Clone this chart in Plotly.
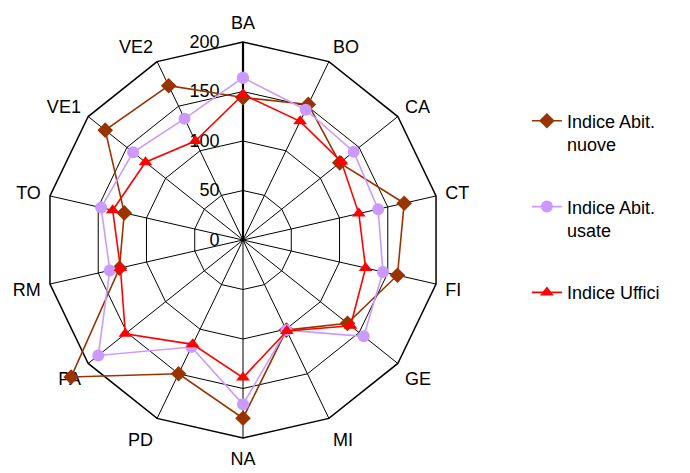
import plotly.graph_objects as go

categories = ["BA", "BO", "CA", "CT", "FI", "GE", "MI", "NA", "PD", "PA", "RM", "TO", "VE1", "VE2"]
abit_nuove = [144, 152, 125, 167, 160, 135, 101, 180, 150, 222, 128, 123, 178, 173]
abit_usate = [164, 146, 143, 140, 145, 156, 101, 166, 120, 187, 138, 147, 142, 136]
uffici = [147, 133, 127, 120, 127, 139, 102, 139, 117, 152, 127, 135, 126, 111]
radial_ticks = [0, 50, 100, 150, 200]

series = [
    ("Indice Abit.<br>nuove", abit_nuove, "#993300", "diamond", 12),
    ("Indice Abit.<br>usate", abit_usate, "#CC99FF", "circle", 12),
    ("Indice Uffici", uffici, "#FF0000", "triangle-up", 12),
]

GRID_MAX = 200   # outer polygon of the grid
DATA_MAX = 230   # data axis extends beyond so PA point is not clipped

fig = go.Figure()
# invisible trace that makes the grid subplot render
fig.add_trace(go.Scatterpolar(
    r=[0] * len(categories), theta=categories, mode="markers",
    marker=dict(opacity=0), showlegend=False, hoverinfo="skip",
    subplot="polar",
))
for i, (name, vals, color, sym, size) in enumerate(series):
    fig.add_trace(go.Scatterpolar(
        r=vals + vals[:1],
        theta=categories + categories[:1],
        mode="lines+markers",
        name=name,
        line=dict(color=color, width=1.6),
        marker=dict(symbol=sym, size=size, color=color),
        cliponaxis=False,
        legendgroup=str(i),
        subplot="polar2",
    ))

cx, cy, R = 235, 232, 198  # centre (px in paper) and radius of the 200 polygon
R2 = R * DATA_MAX / GRID_MAX


def dom(rad):
    return dict(x=[(cx - rad) / 690, (cx + rad) / 690],
                y=[(473 - cy - rad) / 473, (473 - cy + rad) / 473])


angular_common = dict(direction="clockwise", rotation=90,
                      categoryorder="array", categoryarray=categories)

fig.update_layout(
    width=690, height=473,
    margin=dict(l=0, r=0, t=0, b=0),
    paper_bgcolor="white",
    font=dict(family="Arial, Liberation Sans, sans-serif", size=18, color="black"),
    showlegend=True,
    legend=dict(x=0.752, y=0.80, xanchor="left", yanchor="top",
                font=dict(size=18), tracegroupgap=36, valign="top",
                traceorder="grouped", bgcolor="rgba(0,0,0,0)"),
    polar=dict(
        domain=dom(R),
        bgcolor="white",
        gridshape="linear",
        radialaxis=dict(
            range=[0, GRID_MAX], tickvals=radial_ticks, angle=90, tickangle=90,
            showline=True, linecolor="black", linewidth=2.2,
            gridcolor="black", gridwidth=1,
            ticks="outside", ticklen=16, tickcolor="rgba(0,0,0,0)",
            tickfont=dict(size=18), side="counterclockwise",
        ),
        angularaxis=dict(
            type="category",
            showline=True, linecolor="black", linewidth=1.5,
            gridcolor="black", gridwidth=1,
            ticks="outside", ticklen=5, tickcolor="rgba(0,0,0,0)",
            tickfont=dict(size=18),
            **angular_common,
        ),
    ),
    polar2=dict(
        domain=dom(R2),
        bgcolor="rgba(0,0,0,0)",
        radialaxis=dict(range=[0, DATA_MAX], visible=False, showgrid=False),
        angularaxis=dict(type="category", visible=False, showgrid=False,
                         **angular_common),
    ),
)

fig.write_html("out.html")
